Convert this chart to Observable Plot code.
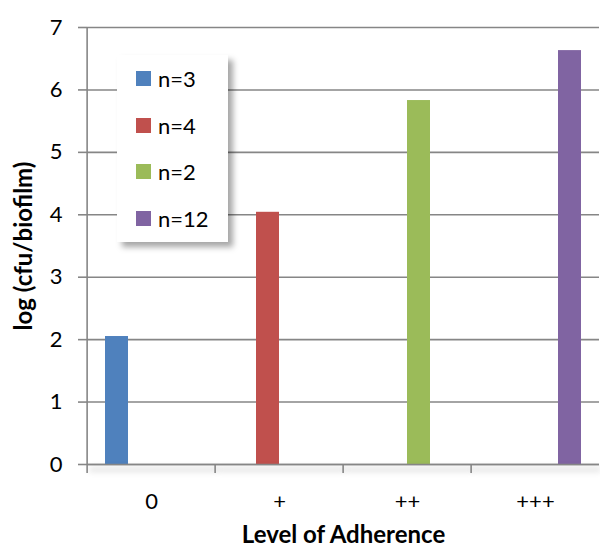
<!DOCTYPE html>
<html>
<head>
<meta charset="utf-8">
<script src="https://cdn.jsdelivr.net/npm/d3@7"></script>
<script src="https://cdn.jsdelivr.net/npm/@observablehq/plot@0.6"></script>
<style>
  html, body { margin: 0; padding: 0; background: #fff; }
  #wrap { position: relative; width: 600px; height: 548px; font-family: Lato, "Open Sans", sans-serif; }
  #wrap svg { font-family: Lato, "Open Sans", sans-serif; }
  g[aria-label="y-axis label"] text, g[aria-label="fx-axis label"] text { font-weight: bold; font-size: 24px; }
  .baseline { filter: drop-shadow(2px 5px 3px rgba(0,0,0,0.35)); }
  #legend {
    position: absolute; left: 117px; top: 55px; width: 111px; height: 187px;
    background: #fff; box-shadow: 5px 5px 6px rgba(0,0,0,0.35);
    display: flex; flex-direction: column;
  }
  #legend .item { flex: 1; display: flex; align-items: center; padding-left: 19px; font-size: 22px; color: #000; }
  #legend .sw { width: 15px; height: 15px; margin-right: 7px; }
</style>
</head>
<body>
<div id="wrap"></div>
<script>
// Adherence categories and the series (sample size) that each bar belongs to
const levels = ["0", "+", "++", "+++"];
const seriesNames = ["n=3", "n=4", "n=2", "n=12"];
const seriesColors = ["#4F81BD", "#C0504D", "#9BBB59", "#8064A2"];
// log(cfu/biofilm) for each level, one bar per level
const barLevel = ["0", "+", "++", "+++"];
const barSeries = ["n=3", "n=4", "n=2", "n=12"];
const barValue = [2.05, 4.04, 5.83, 6.63];
const yTicks = [0, 1, 2, 3, 4, 5, 6, 7];

const data = barLevel.map((level, i) => ({level, series: barSeries[i], value: barValue[i]}));

const W = 600, H = 548;
const margin = {top: 27, right: 0, bottom: 84, left: 85};
const step = (W - margin.left - margin.right) / levels.length;
const gray = "#868686";

const chart = Plot.plot({
  width: W,
  height: H,
  marginTop: margin.top,
  marginRight: margin.right,
  marginBottom: margin.bottom,
  marginLeft: margin.left,
  style: {fontSize: "22px", color: "#000", background: "transparent"},
  fx: {domain: levels, padding: 0},
  x: {domain: seriesNames, paddingInner: 0, paddingOuter: 0.6875, axis: null},
  y: {domain: [0, 7]},
  color: {domain: seriesNames, range: seriesColors},
  marks: [
    Plot.gridY(yTicks, {stroke: gray, strokeOpacity: 1, strokeWidth: 1.6}),
    // vertical value axis line along the left edge of the first category
    Plot.gridFx({facetAnchor: "left", dx: -step / 2, stroke: gray, strokeOpacity: 1, strokeWidth: 1.6}),
    Plot.barY(data, {fx: "level", x: "series", y: "value", fill: "series"}),
    Plot.ruleY([0], {stroke: gray, strokeWidth: 1.6, className: "baseline"}),
    Plot.axisY(yTicks, {
      tickSize: 9, tickPadding: 16, stroke: gray, strokeWidth: 1.6, tickFormat: d => String(d),
      label: "log (cfu/biofilm)", labelAnchor: "center", labelOffset: 73, labelArrow: "none"
    }),
    Plot.axisFx({anchor: "bottom", tickSize: 9, tickFormat: () => "", dx: -step / 2, stroke: gray, strokeWidth: 1.6, label: null}),
    Plot.axisFx({anchor: "bottom", tickSize: 0, tickPadding: 29, label: "Level of Adherence", labelAnchor: "center", labelOffset: 78})
  ]
});

const wrap = document.getElementById("wrap");
wrap.appendChild(chart);

// Legend box inside the plot area
const legend = document.createElement("div");
legend.id = "legend";
seriesNames.forEach((name, i) => {
  const item = document.createElement("div");
  item.className = "item";
  const sw = document.createElement("span");
  sw.className = "sw";
  sw.style.background = seriesColors[i];
  const label = document.createElement("span");
  label.textContent = name;
  item.appendChild(sw);
  item.appendChild(label);
  legend.appendChild(item);
});
wrap.appendChild(legend);
</script>
</body>
</html>
